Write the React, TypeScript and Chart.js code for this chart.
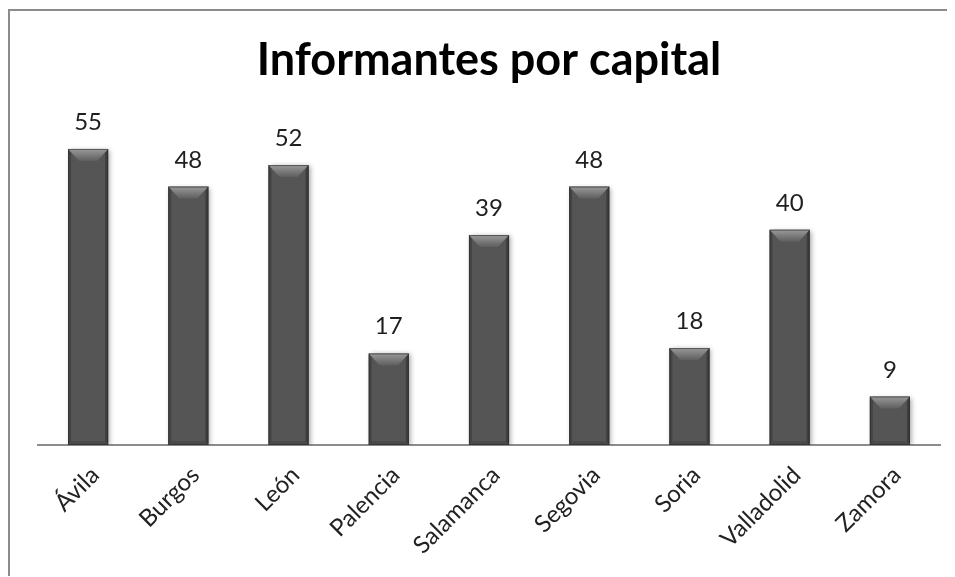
import React, { useEffect, useRef } from "react";
import { Chart, registerables } from "chart.js";

Chart.register(...registerables);

const categories = ["Ávila", "Burgos", "León", "Palencia", "Salamanca", "Segovia", "Soria", "Valladolid", "Zamora"];
const informantes = [55, 48, 52, 17, 39, 48, 18, 40, 9];
const chartTitle = "Informantes por capital";
const yMax = 60;

const FONT = "Lato, 'Open Sans', sans-serif";

const bevelPlugin = {
  id: "bevel",
  beforeDatasetsDraw(chart: any) {
    const ctx = chart.ctx;
    ctx.save();
    ctx.shadowColor = "rgba(0,0,0,0.35)";
    ctx.shadowBlur = 5;
    ctx.shadowOffsetX = 2;
    ctx.shadowOffsetY = 1;
  },
  afterDatasetsDraw(chart: any) {
    const ctx = chart.ctx;
    ctx.restore();
    ctx.save();
    const meta = chart.getDatasetMeta(0);
    meta.data.forEach((bar: any, i: number) => {
      const { x, y, base, width } = bar.getProps(["x", "y", "base", "width"], true);
      const l = x - width / 2;
      const r = x + width / 2;
      const t = y;
      const b = base;
      const tb = Math.min(12, (b - t) / 2);
      const ti = 11;
      const sb = 3;
      const bb = 4;
      // left edge
      ctx.fillStyle = "#444444";
      ctx.beginPath();
      ctx.moveTo(l, t);
      ctx.lineTo(l + sb, t + sb);
      ctx.lineTo(l + sb, b - sb);
      ctx.lineTo(l, b);
      ctx.closePath();
      ctx.fill();
      // right edge
      ctx.fillStyle = "#3e3e3e";
      ctx.beginPath();
      ctx.moveTo(r, t);
      ctx.lineTo(r - sb, t + sb);
      ctx.lineTo(r - sb, b - sb);
      ctx.lineTo(r, b);
      ctx.closePath();
      ctx.fill();
      // bottom bevel
      ctx.fillStyle = "#4a4a4a";
      ctx.beginPath();
      ctx.moveTo(l, b);
      ctx.lineTo(l + bb, b - bb);
      ctx.lineTo(r - bb, b - bb);
      ctx.lineTo(r, b);
      ctx.closePath();
      ctx.fill();
      // top bevel
      const g = ctx.createLinearGradient(0, t, 0, t + tb);
      g.addColorStop(0, "#9a9a9a");
      g.addColorStop(1, "#5e5e5e");
      ctx.fillStyle = g;
      ctx.beginPath();
      ctx.moveTo(l, t);
      ctx.lineTo(r, t);
      ctx.lineTo(r - ti, t + tb);
      ctx.lineTo(l + ti, t + tb);
      ctx.closePath();
      ctx.fill();
      // outline
      ctx.strokeStyle = "rgba(40,40,40,0.6)";
      ctx.lineWidth = 1;
      ctx.strokeRect(l + 0.5, t + 0.5, width - 1, b - t - 1);
      // value label
      ctx.fillStyle = "#1f1f1f";
      ctx.font = `24px ${FONT}`;
      ctx.textAlign = "center";
      ctx.textBaseline = "alphabetic";
      ctx.fillText(String(informantes[i]), x, t - 19);
    });
    ctx.restore();
  },
};

export default function App() {
  const ref = useRef<HTMLCanvasElement>(null);
  useEffect(() => {
    document.documentElement.style.overflow = "hidden";
    const chart = new Chart(ref.current!, {
      type: "bar",
      data: {
        labels: categories,
        datasets: [
          {
            data: informantes,
            backgroundColor: "#555555",
            borderWidth: 0,
            categoryPercentage: 1,
            barPercentage: 0.4,
          },
        ],
      },
      options: {
        animation: false,
        responsive: false,
        devicePixelRatio: 1,
        layout: { padding: { left: 28, right: 15, top: 0, bottom: 0 } },
        plugins: {
          legend: { display: false },
          tooltip: { enabled: false },
          title: {
            display: true,
            text: chartTitle,
            color: "#000000",
            font: { family: FONT, size: 45, weight: "bold" },
            padding: { top: 22, bottom: 35 },
          },
        },
        scales: {
          x: {
            grid: { display: false },
            border: { display: true, color: "#8c8c8c", width: 2 },
            ticks: {
              color: "#222222",
              font: { family: FONT, size: 24 },
              maxRotation: 45,
              minRotation: 45,
              padding: 8,
              labelOffset: 7,
            },
            afterFit: (scale: any) => {
              scale.height = 132;
            },
          },
          y: {
            display: false,
            min: 0,
            max: yMax,
          },
        },
      },
      plugins: [bevelPlugin],
    });
    return () => chart.destroy();
  }, []);
  return (
    <div
      style={{
        position: "relative",
        top: 1,
        borderTop: "2px solid #8c8c8c",
        borderLeft: "2px solid #8c8c8c",
        width: 945,
        height: 566,
        background: "#ffffff",
      }}
    >
      <canvas ref={ref} width={945} height={566} style={{ display: "block" }} />
    </div>
  );
}
